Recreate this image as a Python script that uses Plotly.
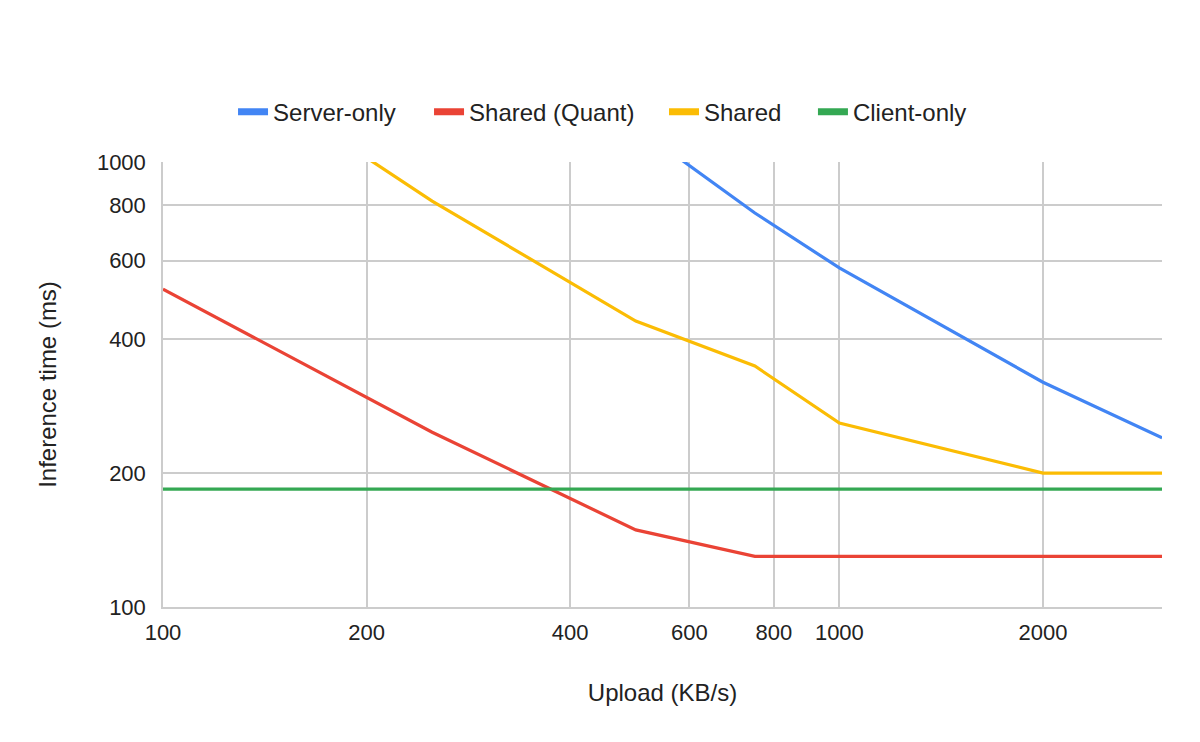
import plotly.graph_objects as go

upload = [100, 200, 250, 500, 750, 1000, 2000, 3000]
server_only = [5800, 2900, 2300, 1200, 768, 578, 320, 240]
shared_quant = [518, 296, 247, 149, 130, 130, 130, 130]
shared = [2050, 1020, 817, 439, 348, 259, 200, 200]
client_only = [184, 184, 184, 184, 184, 184, 184, 184]

x_ticks = [100, 200, 400, 600, 800, 1000, 2000]
y_ticks = [100, 200, 400, 600, 800, 1000]

series = [
    ("Server-only", server_only, "#4285F4"),
    ("Shared (Quant)", shared_quant, "#EA4335"),
    ("Shared", shared, "#FBBC04"),
    ("Client-only", client_only, "#34A853"),
]
# each legend entry sits in its own legend box so the spacing follows the original
legend_x = [0.0701, 0.2663, 0.5015, 0.6506]
legend_ids = ["legend", "legend2", "legend3", "legend4"]

fig = go.Figure()
for name, vals, color in series:
    fig.add_trace(go.Scatter(x=upload, y=vals, name=name, mode="lines",
                             line=dict(color=color, width=3.2), showlegend=False))
# legend-only traces with a thicker stroke for the legend swatch
for (name, vals, color), lid in zip(series, legend_ids):
    fig.add_trace(go.Scatter(x=[None], y=[None], name=name, mode="lines",
                             line=dict(color=color, width=7), legend=lid,
                             showlegend=True, hoverinfo="skip"))

font = "Liberation Sans, Arial, sans-serif"
legend_common = dict(orientation="h", y=1.112, yanchor="middle", xanchor="left",
                     font=dict(size=24, color="#222222"), itemwidth=30,
                     bgcolor="rgba(0,0,0,0)", borderwidth=0)
fig.update_layout(
    width=1200, height=742,
    paper_bgcolor="white", plot_bgcolor="white",
    margin=dict(l=155, r=46, t=154, b=143),
    font=dict(family=font, size=22, color="#222222"),
    legend=dict(x=legend_x[0], **legend_common),
    legend2=dict(x=legend_x[1], **legend_common),
    legend3=dict(x=legend_x[2], **legend_common),
    legend4=dict(x=legend_x[3], **legend_common),
)
fig.update_xaxes(
    type="log", range=[2, 3.477], tickvals=x_ticks, ticktext=[str(v) for v in x_ticks],
    showgrid=True, gridcolor="#cccccc", gridwidth=1.5,
    showline=True, linecolor="#cccccc", linewidth=1.5, zeroline=False,
    ticks="", ticklabelstandoff=5, tickfont=dict(size=22),
    title=dict(text="Upload (KB/s)", standoff=40, font=dict(size=24)),
)
fig.update_yaxes(
    type="log", range=[2, 3], tickvals=y_ticks, ticktext=[str(v) for v in y_ticks],
    showgrid=True, gridcolor="#cccccc", gridwidth=1.5,
    showline=True, linecolor="#cccccc", linewidth=1.5, zeroline=False,
    ticks="", ticklabelstandoff=11, tickfont=dict(size=22),
    title=dict(text="Inference time (ms)", standoff=33, font=dict(size=24)),
)

fig.write_html("out.html")
